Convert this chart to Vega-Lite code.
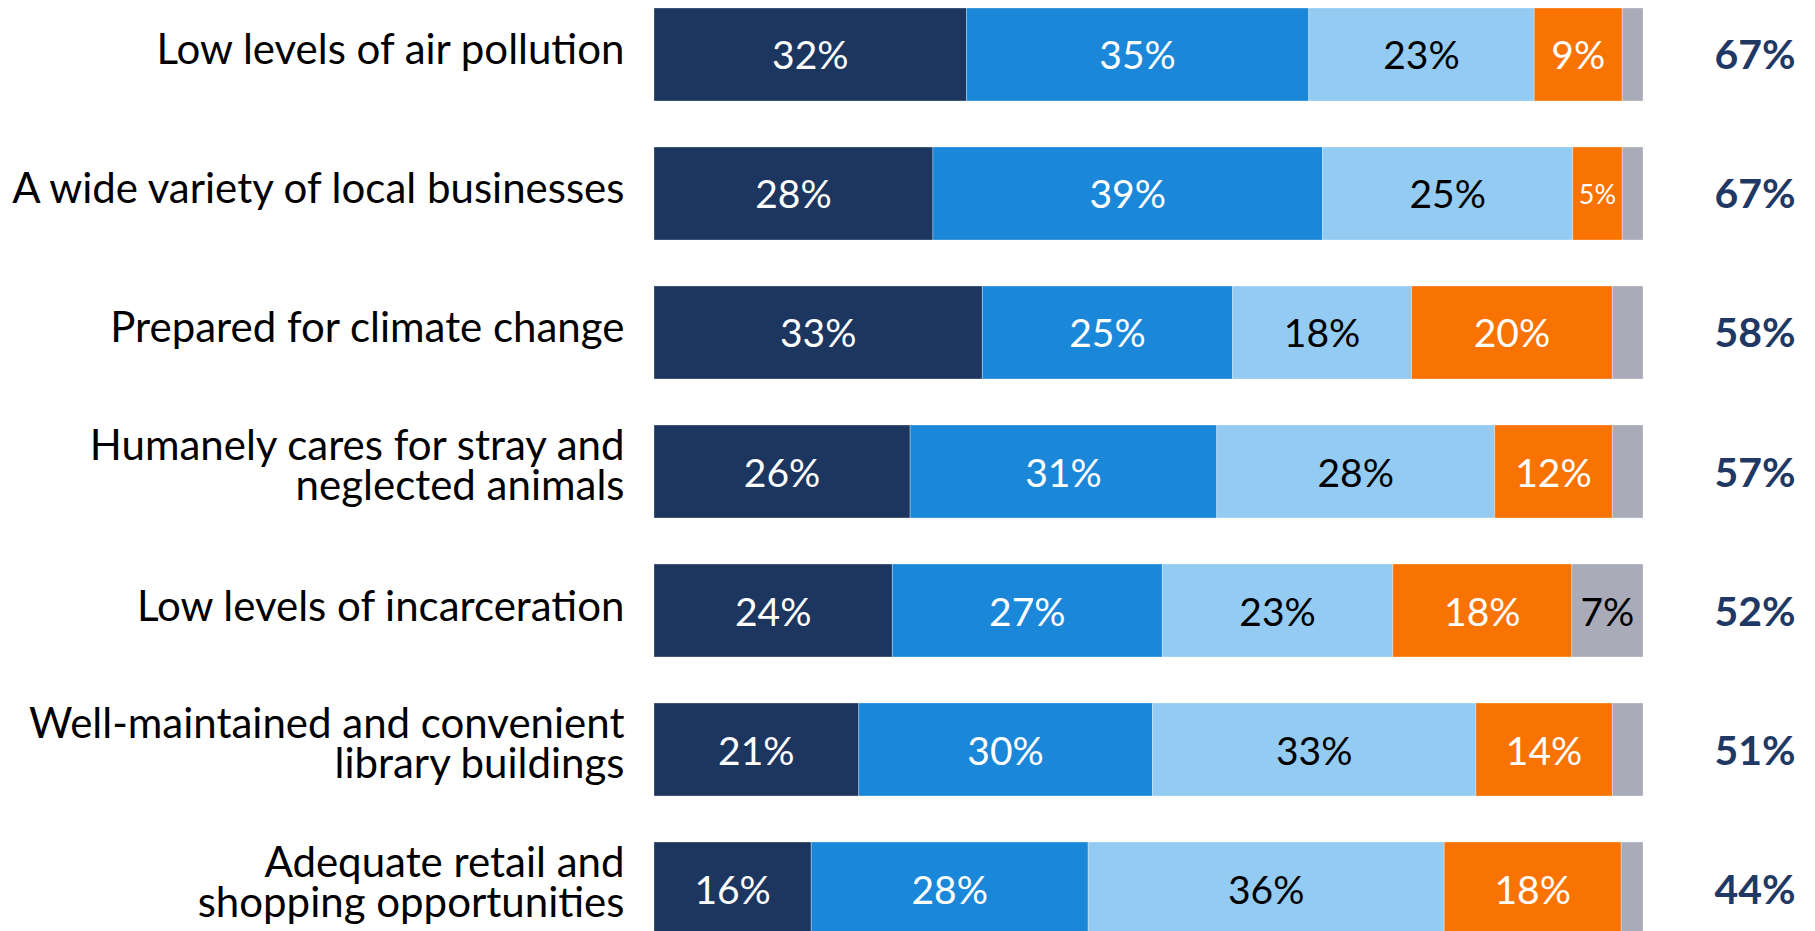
{
  "$schema": "https://vega.github.io/schema/vega-lite/v6.json",
  "autosize": {"type": "none"},
  "padding": {"left": 654, "right": 172, "top": 0, "bottom": 0},
  "width": 989,
  "height": 931,
  "background": "white",
  "config": {"view": {"stroke": null}},
  "data": {
    "values": [
      {"item": "Low levels of air pollution", "total": "67%", "seg": "Very important", "order": 1, "value": 31.6, "label": "32%"},
      {"item": "Low levels of air pollution", "total": "67%", "seg": "Somewhat important", "order": 2, "value": 34.6, "label": "35%"},
      {"item": "Low levels of air pollution", "total": "67%", "seg": "Not too important", "order": 3, "value": 22.8, "label": "23%"},
      {"item": "Low levels of air pollution", "total": "67%", "seg": "Not at all important", "order": 4, "value": 8.9, "label": "9%"},
      {"item": "Low levels of air pollution", "total": "67%", "seg": "Don't know", "order": 5, "value": 2.1, "label": ""},
      {"item": "A wide variety of local businesses", "total": "67%", "seg": "Very important", "order": 1, "value": 28.2, "label": "28%"},
      {"item": "A wide variety of local businesses", "total": "67%", "seg": "Somewhat important", "order": 2, "value": 39.4, "label": "39%"},
      {"item": "A wide variety of local businesses", "total": "67%", "seg": "Not too important", "order": 3, "value": 25.3, "label": "25%"},
      {"item": "A wide variety of local businesses", "total": "67%", "seg": "Not at all important", "order": 4, "value": 5.0, "label": "5%"},
      {"item": "A wide variety of local businesses", "total": "67%", "seg": "Don't know", "order": 5, "value": 2.1, "label": ""},
      {"item": "Prepared for climate change", "total": "58%", "seg": "Very important", "order": 1, "value": 33.2, "label": "33%"},
      {"item": "Prepared for climate change", "total": "58%", "seg": "Somewhat important", "order": 2, "value": 25.3, "label": "25%"},
      {"item": "Prepared for climate change", "total": "58%", "seg": "Not too important", "order": 3, "value": 18.1, "label": "18%"},
      {"item": "Prepared for climate change", "total": "58%", "seg": "Not at all important", "order": 4, "value": 20.3, "label": "20%"},
      {"item": "Prepared for climate change", "total": "58%", "seg": "Don't know", "order": 5, "value": 3.1, "label": ""},
      {"item": "Humanely cares for stray and|neglected animals", "total": "57%", "seg": "Very important", "order": 1, "value": 25.9, "label": "26%"},
      {"item": "Humanely cares for stray and|neglected animals", "total": "57%", "seg": "Somewhat important", "order": 2, "value": 31.0, "label": "31%"},
      {"item": "Humanely cares for stray and|neglected animals", "total": "57%", "seg": "Not too important", "order": 3, "value": 28.1, "label": "28%"},
      {"item": "Humanely cares for stray and|neglected animals", "total": "57%", "seg": "Not at all important", "order": 4, "value": 11.9, "label": "12%"},
      {"item": "Humanely cares for stray and|neglected animals", "total": "57%", "seg": "Don't know", "order": 5, "value": 3.1, "label": ""},
      {"item": "Low levels of incarceration", "total": "52%", "seg": "Very important", "order": 1, "value": 24.1, "label": "24%"},
      {"item": "Low levels of incarceration", "total": "52%", "seg": "Somewhat important", "order": 2, "value": 27.3, "label": "27%"},
      {"item": "Low levels of incarceration", "total": "52%", "seg": "Not too important", "order": 3, "value": 23.3, "label": "23%"},
      {"item": "Low levels of incarceration", "total": "52%", "seg": "Not at all important", "order": 4, "value": 18.1, "label": "18%"},
      {"item": "Low levels of incarceration", "total": "52%", "seg": "Don't know", "order": 5, "value": 7.2, "label": "7%"},
      {"item": "Well-maintained and convenient|library buildings", "total": "51%", "seg": "Very important", "order": 1, "value": 20.7, "label": "21%"},
      {"item": "Well-maintained and convenient|library buildings", "total": "51%", "seg": "Somewhat important", "order": 2, "value": 29.7, "label": "30%"},
      {"item": "Well-maintained and convenient|library buildings", "total": "51%", "seg": "Not too important", "order": 3, "value": 32.7, "label": "33%"},
      {"item": "Well-maintained and convenient|library buildings", "total": "51%", "seg": "Not at all important", "order": 4, "value": 13.8, "label": "14%"},
      {"item": "Well-maintained and convenient|library buildings", "total": "51%", "seg": "Don't know", "order": 5, "value": 3.1, "label": ""},
      {"item": "Adequate retail and|shopping opportunities", "total": "44%", "seg": "Very important", "order": 1, "value": 15.9, "label": "16%"},
      {"item": "Adequate retail and|shopping opportunities", "total": "44%", "seg": "Somewhat important", "order": 2, "value": 28.0, "label": "28%"},
      {"item": "Adequate retail and|shopping opportunities", "total": "44%", "seg": "Not too important", "order": 3, "value": 36.0, "label": "36%"},
      {"item": "Adequate retail and|shopping opportunities", "total": "44%", "seg": "Not at all important", "order": 4, "value": 17.9, "label": "18%"},
      {"item": "Adequate retail and|shopping opportunities", "total": "44%", "seg": "Don't know", "order": 5, "value": 2.2, "label": ""}
    ]
  },
  "transform": [
    {"stack": "value", "groupby": ["item"], "sort": [{"field": "order", "order": "ascending"}], "as": ["v0", "v1"]}
  ],
  "encoding": {
    "y": {
      "field": "item",
      "type": "nominal",
      "sort": null,
      "scale": {"range": [8, 935], "paddingInner": 0.331, "paddingOuter": 0},
      "axis": {
        "title": null,
        "domain": false,
        "ticks": false,
        "labelPadding": 30,
        "labelLimit": 800,
        "labelFont": "Lato",
        "labelFontSize": 42,
        "labelColor": "#000000",
        "labelLineHeight": 40,
        "labelOffset": {"condition": {"test": "indexof(datum.label, '|') >= 0", "value": -25}, "value": -3},
        "labelExpr": "split(datum.label, '|')"
      }
    }
  },
  "layer": [
    {
      "mark": {"type": "bar", "stroke": "#ffffff", "strokeWidth": 0.6, "strokeOpacity": 0.5},
      "encoding": {
        "x": {"field": "v0", "type": "quantitative", "scale": {"domain": [0, 100], "nice": false, "zero": true}, "axis": null},
        "x2": {"field": "v1"},
        "color": {
          "field": "seg",
          "type": "nominal",
          "sort": null,
          "scale": {
            "domain": ["Very important", "Somewhat important", "Not too important", "Not at all important", "Don't know"],
            "range": ["#1d365f", "#1a87d9", "#93cbf3", "#f97302", "#a9abb9"]
          },
          "legend": null
        }
      }
    },
    {
      "transform": [{"calculate": "(datum.v0 + datum.v1) / 2", "as": "mid"}],
      "mark": {"type": "text", "font": "Lato", "baseline": "middle", "align": "center", "dy": 3},
      "encoding": {
        "x": {"field": "mid", "type": "quantitative"},
        "text": {"field": "label"},
        "size": {"condition": {"test": "datum.value < 6", "value": 27}, "value": 39},
        "color": {
          "condition": {"test": "datum.order == 3 || datum.order == 5", "value": "#000000"},
          "value": "#ffffff"
        }
      }
    },
    {
      "transform": [{"filter": "datum.order == 5"}],
      "mark": {"type": "text", "font": "Lato", "fontWeight": "bold", "fontSize": 41, "color": "#1f3864", "baseline": "middle", "align": "center", "dx": 112, "dy": 3},
      "encoding": {
        "x": {"field": "v1", "type": "quantitative"},
        "text": {"field": "total"}
      }
    }
  ]
}
